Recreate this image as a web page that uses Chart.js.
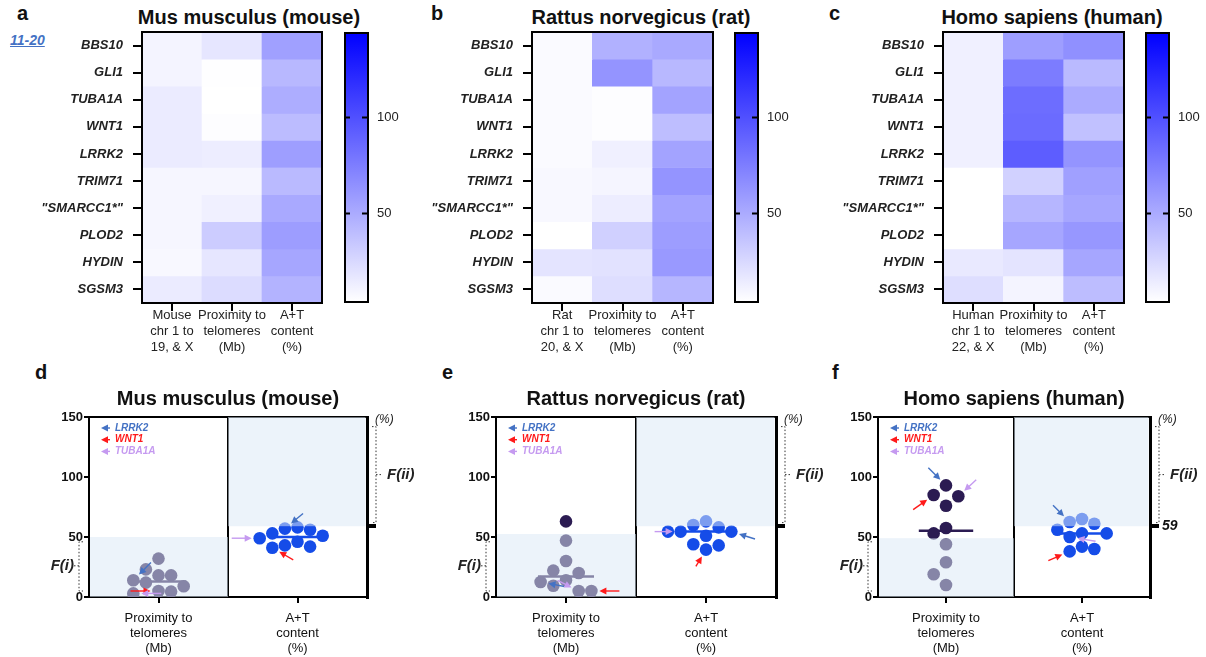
<!DOCTYPE html>
<html>
<head>
<meta charset="utf-8">
<script src="https://cdn.jsdelivr.net/npm/chart.js@4.4.1/dist/chart.umd.min.js"></script>
<style>
 body{margin:0;background:#fff;width:1206px;height:657px;overflow:hidden;position:relative;font-family:Arial,"Liberation Sans",Helvetica,sans-serif;color:#111}
 canvas{position:absolute}
 .lab{position:absolute;font-weight:bold;font-size:20px;line-height:20px}
 .ttl{position:absolute;font-weight:bold;font-size:20px;line-height:24px;white-space:nowrap;transform:translateX(-50%)}
 .link{position:absolute;left:10px;top:32px;font-size:14px;font-weight:bold;font-style:italic;color:#4472c4;text-decoration:underline}
</style>
</head>
<body>
<div class="lab" style="left:17px;top:3px">a</div>
<div class="lab" style="left:431px;top:3px">b</div>
<div class="lab" style="left:829px;top:3px">c</div>
<div class="lab" style="left:35px;top:362px">d</div>
<div class="lab" style="left:442px;top:362px">e</div>
<div class="lab" style="left:832px;top:362px">f</div>
<div class="link">11-20</div>
<div class="ttl" style="left:249px;top:5px">Mus musculus (mouse)</div>
<div class="ttl" style="left:641px;top:5px">Rattus norvegicus (rat)</div>
<div class="ttl" style="left:1052px;top:5px">Homo sapiens (human)</div>

<canvas id="hmA" width="330" height="360" style="left:0;top:0"></canvas>
<canvas id="cbA" width="75" height="340" style="left:330px;top:0"></canvas>
<canvas id="hmB" width="325" height="360" style="left:395px;top:0"></canvas>
<canvas id="cbB" width="75" height="340" style="left:720px;top:0"></canvas>
<canvas id="hmC" width="330" height="360" style="left:800px;top:0"></canvas>
<canvas id="cbC" width="75" height="340" style="left:1131px;top:0"></canvas>
<canvas id="swD" width="415" height="272" style="left:0;top:385px"></canvas>
<canvas id="swE" width="415" height="272" style="left:415px;top:385px"></canvas>
<canvas id="swF" width="376" height="272" style="left:830px;top:385px"></canvas>

<script>
// genes, top to bottom
const genes = ['BBS10','GLI1','TUBA1A','WNT1','LRRK2','TRIM71','"SMARCC1*"','PLOD2','HYDIN','SGSM3']

// chromosome number, proximity to telomeres (Mb), A+T content (%)
const mouseChr = [10,10,15,15,15,9,9,9,8,15]
const mouseProx = [18,4.5,3,5,14,9,12,32,18,23]
const mouseAT = [56,43,49,41,57,42,51,58,53,46]

const ratChr = [7,7,7,7,7,8,8,2,19,7]
const ratProx = [47,63,5,5,12.5,9.4,14,30,20,22]
const ratAT = [51,43,54.5,39.5,54.5,63,54.5,58,60,44]

const humanChr = [12,12,12,12,12,3,3,3,16,22]
const humanProx = [57.5,76,84,85,93,29,44,53,19,10]
const humanAT = [65,42,50,38,62.5,56,53,61,53,40]

const mouseCols = [['Mouse','chr 1 to','19, & X'],['Proximity to','telomeres','(Mb)'],['A+T','content','(%)']]
const ratCols = [['Rat','chr 1 to','20, & X'],['Proximity to','telomeres','(Mb)'],['A+T','content','(%)']]
const humanCols = [['Human','chr 1 to','22, & X'],['Proximity to','telomeres','(Mb)'],['A+T','content','(%)']]
const swarmCols = [['Proximity to','telomeres','(Mb)'],['A+T','content','(%)']]

const colorMin = 4
const colorMax = 144
const colorTicks = [50,100]
const yTicks = [0,50,100,150]

// F(i) upper limit for proximity, F(ii) lower limit for A+T
const fiUpper = {mouse:50, rat:52.5, human:49}
const fiiLower = 59

const marked = ['LRRK2','WNT1','TUBA1A']
const markColor = {LRRK2:'#4472c4', WNT1:'#ff1a1a', TUBA1A:'#c59af0'}

const FONT = 'Arial, "Liberation Sans", Helvetica, sans-serif'
Chart.defaults.font.family = FONT

function heatColor(v){
 const t = Math.max(0, Math.min(1, (v-colorMin)/(colorMax-colorMin)))
 const c = Math.round(255*(1-t))
 return 'rgb('+c+','+c+',255)'
}

const frame = {
 id:'frame',
 afterDraw(chart){
  const a = chart.chartArea, c = chart.ctx
  c.save()
  c.strokeStyle = '#000'
  c.lineWidth = 2
  c.strokeRect(a.left, a.top, a.right-a.left, a.bottom-a.top)
  c.restore()
 }
}

function heatmap(id, cols, xLabels, axisWidth, padRight){
 new Chart(document.getElementById(id), {
  type:'bar',
  data:{
   labels:xLabels,
   datasets:genes.map((g,i)=>({
    label:g,
    data:cols.map(()=>1),
    backgroundColor:cols.map(col=>heatColor(col[i])),
    borderWidth:0,
    barPercentage:1,
    categoryPercentage:1
   }))
  },
  options:{
   responsive:false,
   animation:false,
   layout:{padding:{top:32, right:padRight}},
   plugins:{legend:{display:false}, tooltip:{enabled:false}},
   scales:{
    x:{
     stacked:true,
     grid:{offset:false, drawOnChartArea:false, color:'#000', lineWidth:2, tickLength:8},
     border:{color:'#000', width:2},
     ticks:{font:{size:13, lineHeight:1.25}, color:'#222', padding:-4, maxRotation:0, autoSkip:false},
     afterFit(s){ s.height = 57 }
    },
    y:{
     stacked:true,
     reverse:true,
     min:0,
     max:10,
     afterBuildTicks(s){ s.ticks = genes.map((g,i)=>({value:i+0.5})) },
     ticks:{callback:(v,i)=>genes[i], font:{size:13, weight:'bold', style:'italic'}, color:'#222', padding:10},
     grid:{drawOnChartArea:false, color:'#000', lineWidth:2, tickLength:9},
     border:{color:'#000', width:2},
     afterFit(s){ s.width = axisWidth }
    }
   }
  },
  plugins:[frame]
 })
}

const barTicks = {
 id:'barTicks',
 afterDraw(chart){
  const a = chart.chartArea, c = chart.ctx, y = chart.scales.y
  c.save()
  c.strokeStyle = '#000'
  c.lineWidth = 2
  colorTicks.forEach(v=>{
   const py = y.getPixelForValue(v)
   c.beginPath()
   c.moveTo(a.left, py); c.lineTo(a.left+5, py)
   c.moveTo(a.right-6, py); c.lineTo(a.right+1, py)
   c.stroke()
  })
  c.restore()
 }
}

function colorbar(id){
 new Chart(document.getElementById(id), {
  type:'bar',
  data:{
   labels:[''],
   datasets:[{
    data:[[colorMin, colorMax]],
    backgroundColor(ctx){
     const a = ctx.chart.chartArea
     if(!a) return heatColor(70)
     const g = ctx.chart.ctx.createLinearGradient(0, a.bottom, 0, a.top)
     g.addColorStop(0, heatColor(colorMin))
     g.addColorStop(1, heatColor(colorMax))
     return g
    },
    borderWidth:0,
    barPercentage:1,
    categoryPercentage:1
   }]
  },
  options:{
   responsive:false,
   animation:false,
   layout:{padding:{top:33, bottom:38, left:15}},
   plugins:{legend:{display:false}, tooltip:{enabled:false}},
   scales:{
    x:{display:false},
    y:{
     position:'right',
     min:colorMin,
     max:colorMax,
     afterBuildTicks(s){ s.ticks = colorTicks.map(v=>({value:v})) },
     ticks:{font:{size:13}, color:'#222', padding:9},
     grid:{display:false, drawTicks:false},
     border:{display:false},
     afterFit(s){ s.width = 37 }
    }
   }
  },
  plugins:[frame, barTicks]
 })
}

// beeswarm offsets (x units) so points do not overlap
function swarm(values){
 const d = 12.6, px = 139, py = 1.2
 const order = values.map((v,i)=>i).sort((a,b)=>values[b]-values[a])
 const placed = [], off = []
 order.forEach(i=>{
  const y = values[i]*py
  for(let k=0;k<30;k++){
   const s = k===0 ? 0 : (k%2 ? -Math.ceil(k/2) : Math.ceil(k/2))
   const x = s*d
   if(placed.every(p=>Math.hypot(p.x-x, p.y-y) >= d*0.97)){
    placed.push({x,y})
    off[i] = x/px
    break
   }
  }
 })
 return off
}

function median(arr){
 const s = arr.slice().sort((a,b)=>a-b)
 const m = Math.floor(s.length/2)
 return s.length%2 ? s[m] : (s[m-1]+s[m])/2
}

function arrow(c, px, py, dx, dy, color, gap){
 const len = Math.hypot(dx,dy), ux = dx/len, uy = dy/len
 const hx = px+ux*gap, hy = py+uy*gap
 const tx = px+dx+ux*gap, ty = py+dy+uy*gap
 c.strokeStyle = color
 c.fillStyle = color
 c.lineWidth = 1.4
 c.beginPath()
 c.moveTo(tx,ty); c.lineTo(hx+ux*5, hy+uy*5)
 c.stroke()
 c.beginPath()
 c.moveTo(hx,hy)
 c.lineTo(hx+ux*7-uy*3.5, hy+uy*7+ux*3.5)
 c.lineTo(hx+ux*7+uy*3.5, hy+uy*7-ux*3.5)
 c.closePath()
 c.fill()
}

function bracket(c, x, y1, y2, ym, dir){
 c.beginPath()
 c.moveTo(x+dir*4, y1); c.lineTo(x, y1); c.lineTo(x, y2); c.lineTo(x+dir*4, y2)
 c.moveTo(x, ym); c.lineTo(x-dir*5, ym)
 c.stroke()
}

function swarmChart(id, title, prox, at, fiTop, cfg){
 const proxOff = swarm(prox), atOff = swarm(at)
 const proxColor = '#2b1b52', atColor = '#154ce8'
 const mp = median(prox), ma = median(at)

 const deco = {
  id:'deco',
  beforeDatasetsDraw(chart){
   const a = chart.chartArea, c = chart.ctx, x = chart.scales.x
   c.save()
   c.strokeStyle = '#000'
   c.lineWidth = 2
   c.beginPath()
   c.moveTo(a.left, a.top); c.lineTo(a.right, a.top)
   c.moveTo(x.getPixelForValue(1), a.top); c.lineTo(x.getPixelForValue(1), a.bottom)
   c.stroke()
   c.restore()
  },
  afterDatasetsDraw(chart){
   const a = chart.chartArea, c = chart.ctx, x = chart.scales.x, y = chart.scales.y
   const mid = x.getPixelForValue(1)
   c.save()
   // shaded F(i) / F(ii) regions
   c.fillStyle = 'rgba(219,232,246,0.52)'
   c.fillRect(a.left+1, y.getPixelForValue(fiTop), mid-a.left-1, y.getPixelForValue(0)-y.getPixelForValue(fiTop))
   c.fillRect(mid, y.getPixelForValue(150), a.right-1.5-mid, y.getPixelForValue(fiiLower)-y.getPixelForValue(150))

   // gene arrows
   const metas = [chart.getDatasetMeta(0), chart.getDatasetMeta(1)]
   marked.forEach(g=>{
    const i = genes.indexOf(g)
    metas.forEach((m,k)=>{
     const p = m.data[i]
     const d = cfg.arrows[k][g]
     arrow(c, p.x, p.y, d[0], d[1], markColor[g], 8)
    })
   })

   // legend
   c.font = 'italic bold 10px '+FONT
   c.textBaseline = 'middle'
   c.textAlign = 'left'
   marked.forEach((g,k)=>{
    const ly = a.top+11+k*11.7
    arrow(c, a.left+12, ly, 9, 0, markColor[g], 0)
    c.fillStyle = markColor[g]
    c.fillText(g, a.left+26, ly)
   })

   // F(ii) bracket on the right
   c.strokeStyle = '#333'
   c.lineWidth = 1
   c.setLineDash([1.5,2])
   const bx = a.right+9
   bracket(c, bx, y.getPixelForValue(142), y.getPixelForValue(62), y.getPixelForValue(102), -1)
   // F(i) bracket on the left
   const lx = a.left-10
   bracket(c, lx, y.getPixelForValue(46), y.getPixelForValue(5), y.getPixelForValue(26), 1)
   c.setLineDash([])

   c.fillStyle = '#222'
   c.font = 'italic 12px '+FONT
   c.fillText('(%)', bx-1, a.top+3)
   c.font = 'italic bold 15px '+FONT
   c.fillText('F(ii)', bx+11, y.getPixelForValue(102))
   c.textAlign = 'right'
   c.fillText('F(i)', lx-5, y.getPixelForValue(26))
   c.restore()
  }
 }

 new Chart(document.getElementById(id), {
  type:'scatter',
  data:{
   datasets:[
    {data:prox.map((v,i)=>({x:0.5+proxOff[i], y:v})), backgroundColor:proxColor, pointRadius:6.3, borderWidth:0},
    {data:at.map((v,i)=>({x:1.5+atOff[i], y:v})), backgroundColor:atColor, pointRadius:6.3, borderWidth:0},
    {data:[{x:0.3, y:mp},{x:0.7, y:mp}], showLine:true, borderColor:proxColor, borderWidth:2.5, pointRadius:0},
    {data:[{x:1.3, y:ma},{x:1.7, y:ma}], showLine:true, borderColor:atColor, borderWidth:2.5, pointRadius:0}
   ]
  },
  options:{
   responsive:false,
   animation:false,
   plugins:{
    legend:{display:false},
    tooltip:{enabled:false},
    title:{display:true, text:title, fullSize:false, font:{size:20, weight:'bold'}, color:'#111', padding:{top:2, bottom:6}}
   },
   scales:{
    x:{
     type:'linear', min:0, max:2,
     afterBuildTicks(s){ s.ticks = [{value:0.5},{value:1.5}] },
     ticks:{callback:(v,i)=>swarmCols[i], font:{size:13, lineHeight:1.15}, color:'#111', padding:8, maxRotation:0},
     grid:{drawOnChartArea:false, color:'#000', lineWidth:2, tickLength:6},
     border:{color:'#000', width:2},
     afterFit(s){ s.height = 60 }
    },
    y:{
     min:0, max:150,
     afterBuildTicks(s){ s.ticks = yTicks.map(v=>({value:v})) },
     ticks:{font:{size:13, weight:'bold'}, color:'#111', padding:1},
     grid:{drawOnChartArea:false, color:'#000', lineWidth:2, tickLength:5},
     border:{color:'#000', width:2},
     afterFit(s){ s.width = cfg.yWidth }
    },
    y2:{
     position:'right', min:0, max:150,
     afterBuildTicks(s){ s.ticks = [{value:fiiLower}] },
     ticks:{callback:v=>cfg.showCut ? String(v) : '', font:{size:14, weight:'bold', style:'italic'}, color:'#111', padding:3},
     grid:{drawOnChartArea:false, color:'#000', lineWidth:4, tickLength:9},
     border:{color:'#000', width:3},
     afterFit(s){ s.width = cfg.y2Width }
    }
   }
  },
  plugins:[deco]
 })
}

heatmap('hmA', [mouseChr, mouseProx, mouseAT], mouseCols, 142, 8)
heatmap('hmB', [ratChr, ratProx, ratAT], ratCols, 137, 7)
heatmap('hmC', [humanChr, humanProx, humanAT], humanCols, 143, 6)
colorbar('cbA')
colorbar('cbB')
colorbar('cbC')

swarmChart('swD', 'Mus musculus (mouse)', mouseProx, mouseAT, fiUpper.mouse, {
 yWidth:89, y2Width:48, showCut:false,
 arrows:[{LRRK2:[12,-12], WNT1:[-20,0], TUBA1A:[20,0]}, {LRRK2:[12,-10], WNT1:[14,8], TUBA1A:[-20,0]}]
})
swarmChart('swE', 'Rattus norvegicus (rat)', ratProx, ratAT, fiUpper.rat, {
 yWidth:81, y2Width:54, showCut:false,
 arrows:[{LRRK2:[16,3], WNT1:[20,0], TUBA1A:[-14,-7]}, {LRRK2:[16,5], WNT1:[-6,10], TUBA1A:[-18,0]}]
})
swarmChart('swF', 'Homo sapiens (human)', humanProx, humanAT, fiUpper.human, {
 yWidth:48, y2Width:56, showCut:true,
 arrows:[{LRRK2:[-12,-12], WNT1:[-14,10], TUBA1A:[12,-11]}, {LRRK2:[-11,-11], WNT1:[-14,6], TUBA1A:[18,3]}]
})
</script>
</body>
</html>
